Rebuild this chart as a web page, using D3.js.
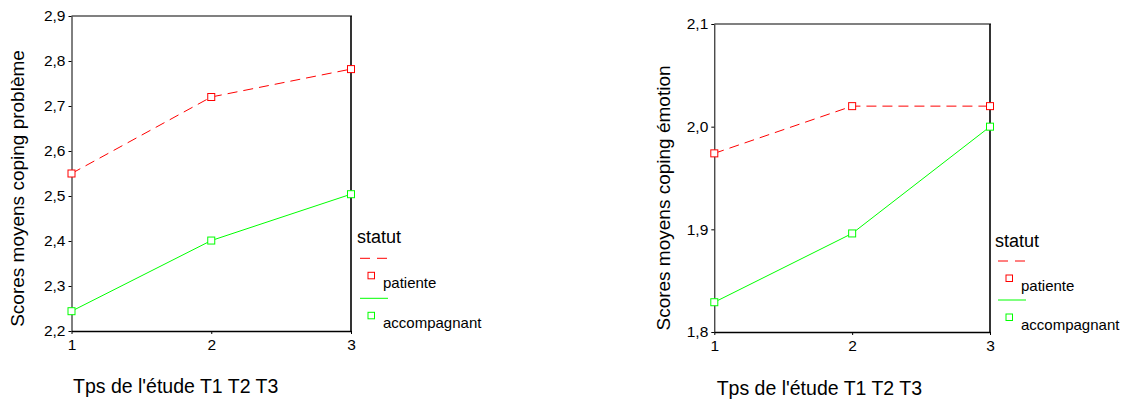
<!DOCTYPE html>
<html>
<head>
<meta charset="utf-8">
<script src="https://cdn.jsdelivr.net/npm/d3@7/dist/d3.min.js"></script>
<style>
  html, body { margin: 0; padding: 0; background: #fff; }
  svg { display: block; font-family: "Liberation Sans", Arial, sans-serif; }
</style>
</head>
<body>
<svg id="chart" width="1127" height="401"></svg>
<script>
// ---- data ----
const timePoints = [1, 2, 3];
const seriesNames = ["patiente", "accompagnant"];
const legendTitle = "statut";
const xTitle = "Tps de l'étude T1 T2 T3";
const problemeTitle = "Scores moyens coping problème";
const emotionTitle = "Scores moyens coping émotion";
const problemePatiente = [2.55, 2.72, 2.782];
const problemeAccompagnant = [2.244, 2.401, 2.504];
const emotionPatiente = [1.974, 2.02, 2.02];
const emotionAccompagnant = [1.829, 1.896, 2.0];
const problemeTicks = [2.2, 2.3, 2.4, 2.5, 2.6, 2.7, 2.8, 2.9];
const emotionTicks = [1.8, 1.9, 2.0, 2.1];

const fr = d3.formatLocale({decimal: ",", thousands: ".", grouping: [3], currency: ["", " €"]});
const fmt = fr.format(".1f");

const colors = {patiente: "#ff0000", accompagnant: "#00ff00"};
const dashes = {patiente: "10,6", accompagnant: null};

const svg = d3.select("#chart");

function panel(cfg) {
  const g = svg.append("g");
  const x = d3.scaleLinear().domain([1, 3]).range([cfg.left, cfg.right]);
  const y = d3.scaleLinear().domain(cfg.domain).range([cfg.bottom, cfg.top]);

  // frame: top (gray) and right (black)
  g.append("line").attr("x1", cfg.left).attr("x2", cfg.right + 1)
    .attr("y1", cfg.top).attr("y2", cfg.top)
    .attr("stroke", "#808080").attr("stroke-width", 2);
  g.append("line").attr("x1", cfg.right).attr("x2", cfg.right)
    .attr("y1", cfg.top).attr("y2", cfg.bottom)
    .attr("stroke", "#000").attr("stroke-width", 1.6);

  const ya = g.append("g").attr("transform", `translate(${cfg.left},0)`)
    .call(d3.axisLeft(y).tickValues(cfg.ticks).tickFormat(fmt).tickSize(3).tickSizeOuter(0).tickPadding(3));
  ya.selectAll("text").attr("font-size", 15.5).attr("font-family", "Liberation Sans, Arial").attr("fill", "#000");
  ya.select(".domain").attr("stroke", "#000");

  const xa = g.append("g").attr("transform", `translate(0,${cfg.bottom})`)
    .call(d3.axisBottom(x).tickValues(timePoints).tickFormat(d3.format("d")).tickSize(3).tickSizeOuter(0).tickPadding(5));
  xa.selectAll("text").attr("font-size", 15.5).attr("font-family", "Liberation Sans, Arial").attr("fill", "#000");
  xa.select(".domain").attr("stroke", "#000").attr("stroke-width", 1.5);

  // titles
  g.append("text").attr("x", cfg.xTitleX).attr("y", cfg.xTitleY)
    .attr("font-size", 19.5).attr("fill", "#000").text(xTitle);
  g.append("text")
    .attr("transform", `translate(${cfg.yTitleX},${cfg.yTitleY}) rotate(-90)`)
    .attr("text-anchor", "middle").attr("dominant-baseline", "central")
    .attr("font-size", 19).attr("fill", "#000").text(cfg.yTitle);

  // series
  const line = d3.line().x((d, i) => x(timePoints[i])).y(d => y(d));
  cfg.series.forEach((vals, si) => {
    const name = seriesNames[si];
    g.append("path").datum(vals).attr("d", line)
      .attr("fill", "none").attr("stroke", colors[name]).attr("stroke-width", 1)
      .attr("stroke-dasharray", dashes[name]);
    g.selectAll(null).data(vals).enter().append("rect")
      .attr("x", (d, i) => x(timePoints[i]) - 3.5)
      .attr("y", d => y(d) - 3.5)
      .attr("width", 7).attr("height", 7)
      .attr("fill", "#fff").attr("stroke", colors[name]).attr("stroke-width", 1);
  });

  // legend
  const L = cfg.legend;
  g.append("text").attr("x", L.x).attr("y", L.titleY)
    .attr("font-size", 18).attr("fill", "#000").text(legendTitle);
  seriesNames.forEach((name, i) => {
    const base = L.firstY + i * L.step;
    g.append("line").attr("x1", L.x + 3).attr("x2", L.x + 31)
      .attr("y1", base).attr("y2", base)
      .attr("stroke", colors[name]).attr("stroke-width", 1)
      .attr("stroke-dasharray", name === "patiente" ? "10,7" : null);
    g.append("rect").attr("x", L.x + 11).attr("y", base + 14)
      .attr("width", 6.5).attr("height", 6.5)
      .attr("fill", "#fff").attr("stroke", colors[name]).attr("stroke-width", 1);
    g.append("text").attr("x", L.x + 26).attr("y", base + 29.5)
      .attr("font-size", 15).attr("fill", "#000").text(name);
  });
}

panel({
  left: 71.5, right: 351, top: 16, bottom: 331,
  domain: [2.2, 2.9], ticks: problemeTicks,
  series: [problemePatiente, problemeAccompagnant],
  yTitle: problemeTitle, yTitleX: 17.5, yTitleY: 188.5,
  xTitleX: 73, xTitleY: 393,
  legend: {x: 357, titleY: 243.3, firstY: 258.3, step: 40}
});

panel({
  left: 714.3, right: 990, top: 24, bottom: 332,
  domain: [1.8, 2.1], ticks: emotionTicks,
  series: [emotionPatiente, emotionAccompagnant],
  yTitle: emotionTitle, yTitleX: 663, yTitleY: 198,
  xTitleX: 716.7, xTitleY: 395,
  legend: {x: 995, titleY: 246.5, firstY: 261, step: 39}
});
</script>
</body>
</html>
